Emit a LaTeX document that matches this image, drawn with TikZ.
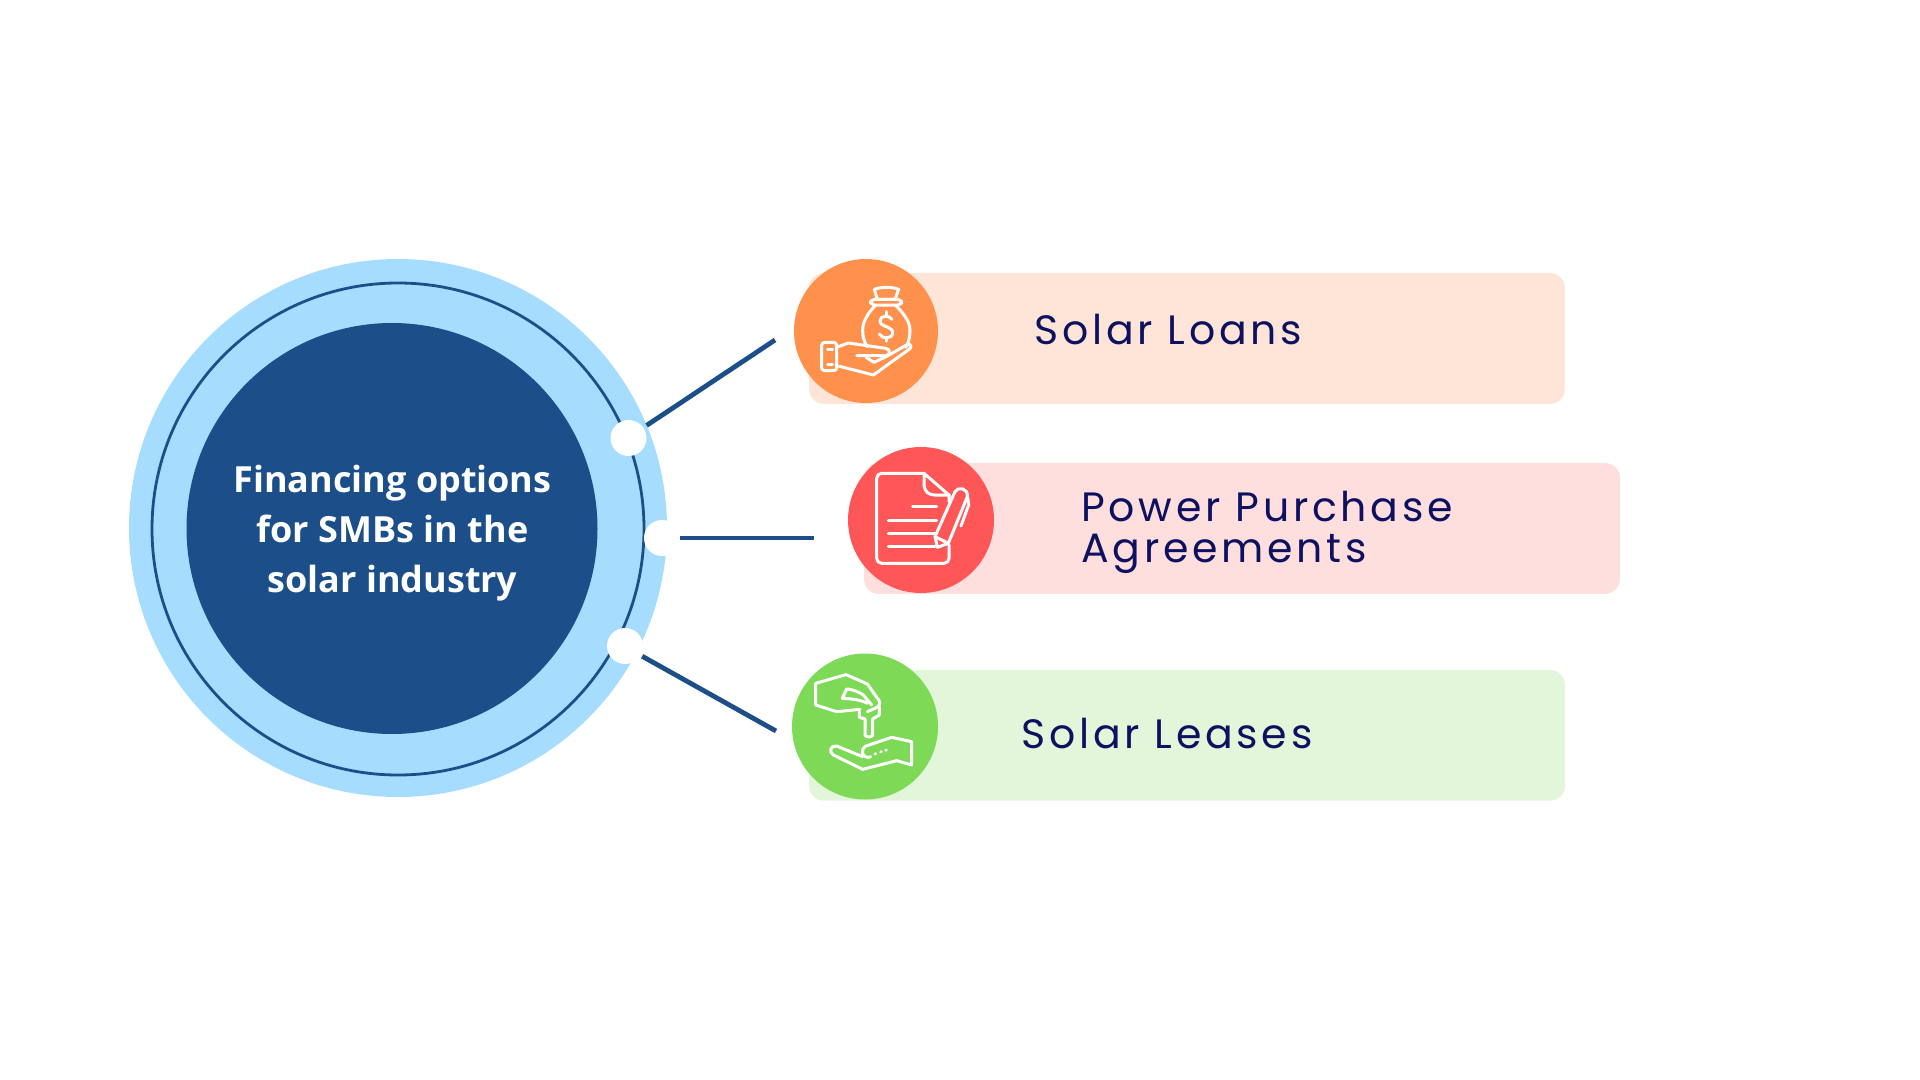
\documentclass[tikz,border=0pt]{standalone}
\usepackage{xcolor}
\usepackage{fontspec}
\usepackage{tikz}
\usetikzlibrary{positioning}
\setmainfont{Open Sans}
\newfontfamily\stripfont[LetterSpace=9.2]{Poppins}
\definecolor{halocolor}{HTML}{A6DDFF}
\definecolor{corecolor}{HTML}{1C4E89}
\definecolor{inkcolor}{HTML}{0E1160}
\definecolor{loanscolor}{HTML}{FF914D}
\definecolor{loansstrip}{HTML}{FFE5D7}
\definecolor{powercolor}{HTML}{FF5757}
\definecolor{powerstrip}{HTML}{FFDEDE}
\definecolor{leasescolor}{HTML}{7ED957}
\definecolor{leasesstrip}{HTML}{E2F6DA}

\begin{document}
\begin{tikzpicture}[x=0.5pt, y=-0.5pt]
    % Styles
    \tikzstyle{disc} = [circle, inner sep=0pt, outer sep=0pt]
    \tikzstyle{strip} = [rectangle, rounded corners=7.5pt, inner sep=0pt, outer sep=0pt, minimum width=378pt, minimum height=65.4pt]
    \tikzstyle{badge} = [disc, minimum size=72pt]
    \tikzstyle{dot} = [disc, fill=white, minimum size=18pt]
    \tikzstyle{link} = [line width=2.4pt, draw=corecolor]
    \tikzstyle{stripnote} = [anchor=base west, inner sep=0pt, text=inkcolor, align=left, font=\stripfont\fontsize{20.5}{20.5}\selectfont]
    \tikzstyle{glyph} = [draw=white, line width=1.5pt, line join=round, line cap=round]
    \tikzstyle{iconspace} = [x=0.16667pt, y=-0.16667pt]

    \useasboundingbox (0,0) rectangle (1920,1080);

    % Nodes - centre circle
    \node [disc, fill=halocolor, minimum size=269pt] (halo) at (398,528) {};
    \node [disc, draw=corecolor, line width=1.4pt, minimum size=246pt] (ring) at (398,529) {};
    \node [disc, fill=corecolor, minimum size=205.5pt] (core) at (392,528.5) {};
    \node [text=white, align=center, font=\bfseries\fontsize{18}{25}\selectfont] (corenote) at (392.5,533) {Financing options\\for SMBs in the\\solar industry};

    % Nodes - white dots on the ring
    \node [dot] (dot1) at (628.5,438) {};
    \node [dot] (dot2) at (662,538) {};
    \node [dot] (dot3) at (625,646) {};

    % Free ends of the connectors
    \coordinate (end1) at (775,340);
    \coordinate (end2) at (814,538);
    \coordinate (end3) at (776,731);

    \draw[link, shorten <=2pt] (dot1.35) -- (end1);
    \draw[link] (dot2.east) -- (end2);
    \draw[link, shorten <=1pt] (dot3.-31) -- (end3);

    % Nodes - strips
    \node [strip, fill=loansstrip] (loansstrip) at (1187,338.5) {};
    \node [strip, fill=leasesstrip, below=133pt of loansstrip] (leasesstrip) {};
    \node [strip, fill=powerstrip] (powerstrip) at (1242,528.5) {};

    % Nodes - badges
    \node [badge, fill=loanscolor] (loansbadge) at (866,331) {};
    \node [badge, fill=powercolor, minimum size=73pt] (powerbadge) at (921,520) {};
    \node [badge, fill=leasescolor, minimum size=73pt] (leasesbadge) at (865,726.5) {};

    % Labels
    \node [stripnote] (loansnote) at (1034,344) {Solar Loans};
    \node [stripnote] (powernote) at (1081,562) {Power Purchase\\Agreements};
    \node [stripnote] (leasesnote) at (1021,748) {Solar Leases};

    % Icon - money bag on a hand
    \begin{scope}[shift={(780,240)}, iconspace]
        \draw[glyph] (283,148) .. controls (305,140) and (335,140) .. (356,148) -- (345,178) -- (292,178) -- cycle;
        \draw[glyph, rounded corners=2pt] (272,178) rectangle (365,195);
        \draw[glyph] (285,197) .. controls (262,222) and (248,245) .. (248,272) .. controls (248,290) and (252,305) .. (262,320);
        \draw[glyph] (348,197) .. controls (372,222) and (390,245) .. (390,272) .. controls (390,290) and (386,305) .. (378,322);
        \draw[glyph] (336,238) .. controls (328,225) and (300,225) .. (300,243) .. controls (300,262) and (338,258) .. (338,278) .. controls (338,298) and (305,298) .. (298,282);
        \draw[glyph] (318,215) -- (318,228);
        \draw[glyph] (318,292) -- (318,304);
        \draw[glyph, rounded corners=1.5pt] (125,307) rectangle (170,392);
        \draw[glyph] (143,327) -- (158,327);
        \draw[glyph] (143,373) -- (158,373);
        \draw[glyph] (175,320) -- (205,309) -- (318,325) .. controls (332,328) and (332,346) .. (316,347) -- (230,347);
        \draw[glyph] (175,378) -- (280,405) -- (390,326) .. controls (398,316) and (388,308) .. (378,316) -- (318,350) -- (282,367) -- (258,352);
    \end{scope}

    % Icon - signed paper
    \begin{scope}[shift={(840,440)}, iconspace]
        \draw[glyph, rounded corners=2.5pt] (252,100) -- (110,100) -- (110,370) -- (327,370) -- (327,315);
        \draw[glyph] (252,100) -- (327,165) -- (327,185);
        \draw[glyph] (252,102) -- (252,135) .. controls (254,155) and (265,165) .. (285,165) -- (327,165);
        \draw[glyph] (218,200) -- (290,200);
        \draw[glyph] (145,240) -- (290,240);
        \draw[glyph] (145,279) -- (285,279);
        \draw[glyph] (145,319) -- (285,319);
        \draw[glyph] (285,290) -- (345,155) .. controls (352,140) and (385,142) .. (382,170) -- (325,310) -- (292,322) -- cycle;
        \draw[glyph] (285,290) -- (325,310);
        \draw[glyph] (383,172) -- (386,195) -- (363,258);
    \end{scope}

    % Icon - key between two hands
    \begin{scope}[shift={(780,640)}, iconspace]
        \draw[glyph] (240,208) -- (170,215) -- (107,195) -- (107,130) -- (198,104) -- (262,132) -- (298,183) .. controls (302,192) and (298,198) .. (285,205) -- (262,215);
        \draw[glyph] (275,195) -- (250,165) .. controls (235,155) and (215,147) .. (200,147) -- (187,175) .. controls (210,176) and (240,178) .. (262,190);
        \draw[glyph] (238,215) -- (238,232) -- (255,237) -- (255,285) .. controls (258,293) and (275,293) .. (278,285) -- (278,237) -- (298,225) -- (298,200);
        \draw[glyph] (248,350) -- (170,318) .. controls (152,315) and (145,335) .. (160,345) -- (248,388) -- (350,362) -- (395,375) -- (395,305) -- (335,292) -- (258,318) .. controls (240,328) and (245,352) .. (265,352) -- (272,350);
        \draw[glyph] (285,342) -- (287,341);
        \draw[glyph] (302,336) -- (304,335);
        \draw[glyph] (317,331) -- (319,330);
    \end{scope}

\end{tikzpicture}
\end{document}
